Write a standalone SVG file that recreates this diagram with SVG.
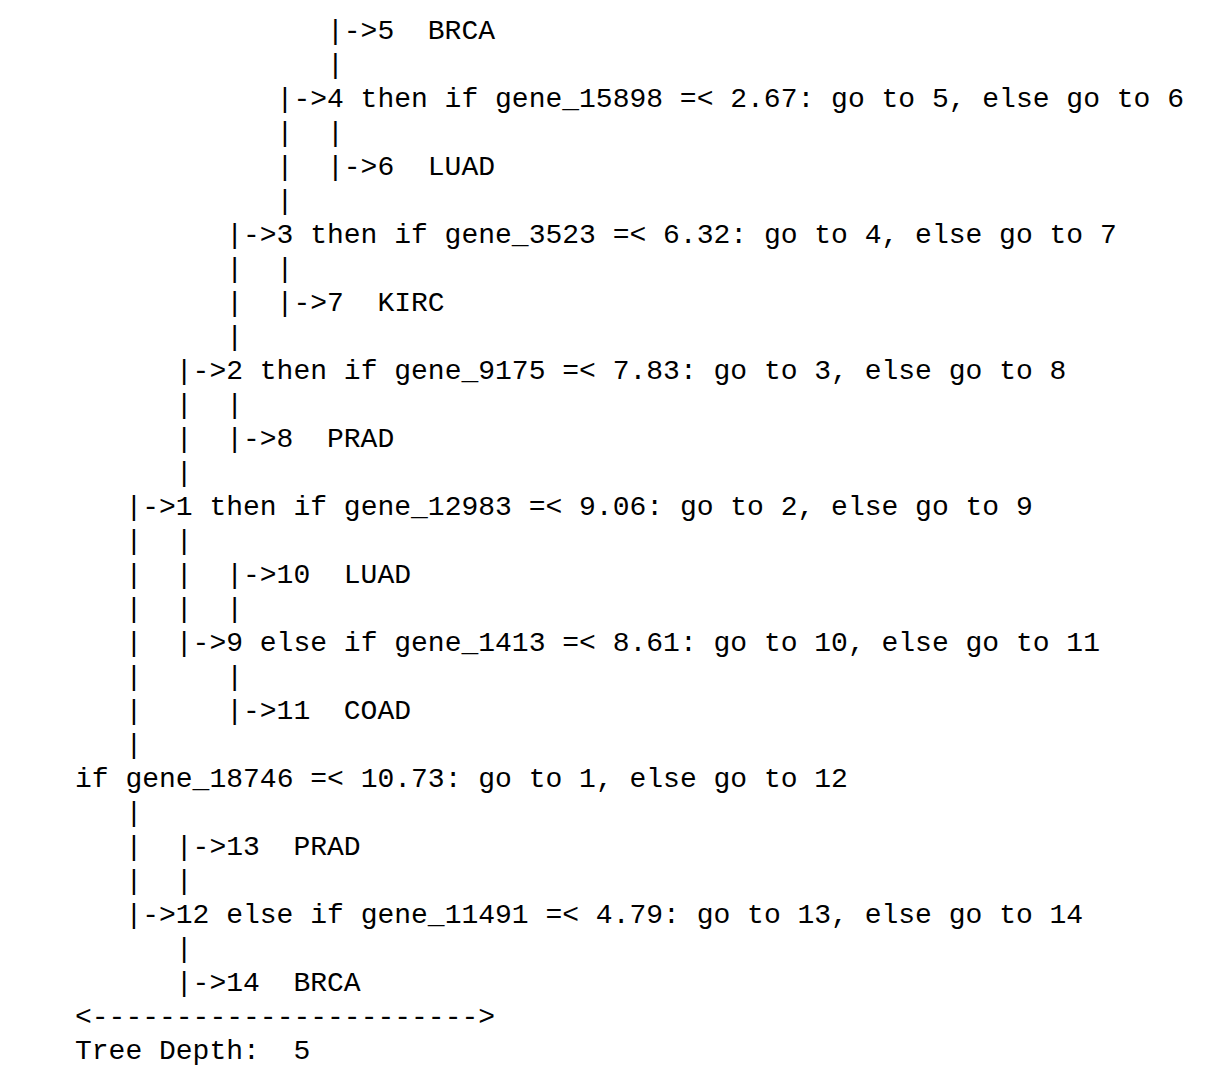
<svg xmlns="http://www.w3.org/2000/svg" width="1208" height="1082" viewBox="0 0 1208 1082" xml:space="preserve">
<style>
text{font-family:"Liberation Mono","DejaVu Sans Mono",monospace;font-size:28px;fill:#000;white-space:pre}
</style>
<rect width="1208" height="1082" fill="#fff"/>
<g id="connectors">
<text x="327" y="73">|</text>
<text x="276.6" y="141">|</text><text x="327" y="141">|</text>
<text x="276.6" y="175">|</text>
<text x="276.6" y="209">|</text>
<text x="226.2" y="277">|</text><text x="276.6" y="277">|</text>
<text x="226.2" y="311">|</text>
<text x="226.2" y="345">|</text>
<text x="175.8" y="413">|</text><text x="226.2" y="413">|</text>
<text x="175.8" y="447">|</text>
<text x="175.8" y="481">|</text>
<text x="125.4" y="549">|</text><text x="175.8" y="549">|</text>
<text x="125.4" y="583">|</text><text x="175.8" y="583">|</text>
<text x="125.4" y="617">|</text><text x="175.8" y="617">|</text><text x="226.2" y="617">|</text>
<text x="125.4" y="651">|</text>
<text x="125.4" y="685">|</text><text x="226.2" y="685">|</text>
<text x="125.4" y="719">|</text>
<text x="125.4" y="753">|</text>
<text x="125.4" y="821">|</text>
<text x="125.4" y="855">|</text>
<text x="125.4" y="889">|</text><text x="175.8" y="889">|</text>
<text x="175.8" y="957">|</text>
</g>
<g id="node5"><text x="327" y="39">|-&gt;5  BRCA</text></g>
<g id="node4"><text x="276.6" y="107">|-&gt;4 then if gene_15898 =&lt; 2.67: go to 5, else go to 6</text></g>
<g id="node6"><text x="327" y="175">|-&gt;6  LUAD</text></g>
<g id="node3"><text x="226.2" y="243">|-&gt;3 then if gene_3523 =&lt; 6.32: go to 4, else go to 7</text></g>
<g id="node7"><text x="276.6" y="311">|-&gt;7  KIRC</text></g>
<g id="node2"><text x="175.8" y="379">|-&gt;2 then if gene_9175 =&lt; 7.83: go to 3, else go to 8</text></g>
<g id="node8"><text x="226.2" y="447">|-&gt;8  PRAD</text></g>
<g id="node1"><text x="125.4" y="515">|-&gt;1 then if gene_12983 =&lt; 9.06: go to 2, else go to 9</text></g>
<g id="node10"><text x="226.2" y="583">|-&gt;10  LUAD</text></g>
<g id="node9"><text x="175.8" y="651">|-&gt;9 else if gene_1413 =&lt; 8.61: go to 10, else go to 11</text></g>
<g id="node11"><text x="226.2" y="719">|-&gt;11  COAD</text></g>
<g id="root"><text x="75" y="787">if gene_18746 =&lt; 10.73: go to 1, else go to 12</text></g>
<g id="node13"><text x="175.8" y="855">|-&gt;13  PRAD</text></g>
<g id="node12"><text x="125.4" y="923">|-&gt;12 else if gene_11491 =&lt; 4.79: go to 13, else go to 14</text></g>
<g id="node14"><text x="175.8" y="991">|-&gt;14  BRCA</text></g>
<g id="footer">
<text x="75" y="1025">&lt;-----------------------&gt;</text>
<text x="75" y="1059">Tree Depth:  5</text>
</g>
</svg>
